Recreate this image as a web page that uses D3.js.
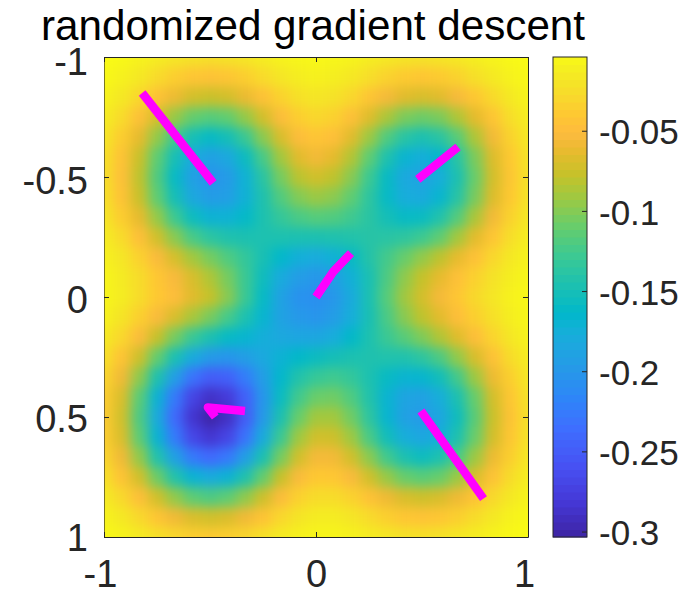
<!DOCTYPE html>
<html>
<head>
<meta charset="utf-8">
<script src="https://cdn.jsdelivr.net/npm/d3@7"></script>
<style>
  html, body { margin: 0; padding: 0; background: #fff; }
  text { font-family: "Liberation Sans", Arial, sans-serif; }
</style>
</head>
<body>
<div id="chart"></div>
<script>
// grid positions, one twelfth apart
const gridX = d3.range(25).map((i) => -1 + i / 12);
const gridY = d3.range(25).map((i) => -1 + i / 12);

// depth of the surface, in thousandths (value = -depth / 1000)
const depth = [
  [4,6,11,16,21,24,26,24,21,16,11,8,7,8,10,15,19,22,24,22,19,14,10,6,3],
  [6,12,19,29,38,45,47,45,38,29,21,15,12,14,19,27,35,41,44,41,35,26,18,11,6],
  [11,19,32,47,62,74,78,74,63,48,35,25,21,24,32,45,58,68,72,68,57,43,30,18,10],
  [16,29,49,73,96,113,119,114,97,74,52,38,32,36,49,69,89,105,110,105,88,66,45,27,15],
  [21,39,65,97,128,152,162,153,131,100,72,52,45,50,68,94,121,141,149,140,118,88,59,35,19],
  [25,47,78,115,152,182,193,185,159,125,92,68,59,66,86,115,147,171,178,168,141,105,70,42,23],
  [26,49,82,121,162,194,206,199,174,140,107,84,75,82,101,130,161,184,191,179,149,111,74,44,24],
  [25,47,78,115,153,185,198,195,175,147,121,103,95,100,115,138,162,180,183,170,142,106,70,42,23],
  [21,39,65,97,130,158,173,174,164,148,134,124,119,121,129,140,153,162,160,146,120,89,59,35,19],
  [16,29,50,75,101,125,139,147,149,148,148,149,149,147,145,142,141,138,130,115,92,67,45,27,15],
  [12,21,36,54,73,92,107,122,135,151,166,177,181,175,161,144,127,112,98,83,65,48,32,19,11],
  [9,17,28,43,56,72,88,107,131,157,182,197,203,195,176,150,123,99,80,65,49,36,24,14,8],
  [9,16,28,42,52,68,80,101,131,162,191,207,210,203,182,150,119,93,74,58,44,31,21,12,7],
  [12,22,37,55,72,90,106,126,148,170,191,201,205,197,179,151,124,101,82,67,51,37,25,14,8],
  [18,32,53,79,107,132,149,162,170,178,185,187,187,180,165,148,131,118,104,87,69,51,34,20,11],
  [25,46,76,113,150,182,200,204,196,184,173,165,159,153,149,147,146,146,138,123,98,72,48,28,16],
  [33,60,99,147,195,233,252,248,226,196,167,145,133,129,135,148,161,171,169,155,127,94,62,37,20],
  [39,71,117,173,228,272,290,281,248,204,160,128,111,109,122,145,171,189,193,179,149,112,74,44,24],
  [41,75,123,182,241,286,303,291,252,200,149,112,92,92,109,138,170,193,200,187,157,117,78,46,25],
  [39,71,116,172,227,270,286,272,233,182,131,94,75,76,94,124,155,179,187,177,148,111,74,44,24],
  [33,60,98,146,192,228,241,229,195,150,107,75,58,59,75,100,128,149,158,148,125,94,62,37,20],
  [25,46,75,110,145,172,182,173,147,113,79,55,42,43,55,75,96,112,118,112,95,71,47,28,15],
  [17,31,50,75,98,116,123,116,99,76,53,36,28,28,35,47,61,72,76,72,61,46,31,19,10],
  [10,19,31,45,60,71,75,71,60,46,32,22,16,16,21,29,37,44,46,44,37,28,19,11,6],
  [6,10,17,25,32,38,41,38,33,25,17,12,9,9,11,16,20,24,25,24,20,15,10,6,3],
];

// descent paths [x, y]
const paths = [
  [[-0.82, -0.85], [-0.485, -0.475]],
  [[0.67, -0.625], [0.48, -0.49]],
  [[0.165, -0.183], [0.08, -0.104], [0, 0]],
  [[-0.335, 0.475], [-0.51, 0.46], [-0.475, 0.5]],
  [[0.495, 0.475], [0.79, 0.84]],
];

const xTicks = [-1, 0, 1];
const yTicks = [-1, -0.5, 0, 0.5, 1];
const barTicks = [-0.05, -0.1, -0.15, -0.2, -0.25, -0.3];
const barRange = [-0.3034, -0.004];

// parula, sampled at colormap index of 64
const parulaIdx = [0, 4, 9, 14, 18, 22, 26, 29, 32, 36, 40, 44, 47, 50, 52, 53, 55, 57, 59, 61, 63];
const parulaHex = ["#3e26a8", "#4537d5", "#4752f4", "#3e6fff", "#2d87f7", "#259be7", "#18addb", "#01b8ca", "#18bfb5", "#37c897", "#63cd6f", "#9dc942", "#c5c22a", "#e6bb2d", "#f8ba3d", "#febd3c", "#fec832", "#f9d62d", "#f5e327", "#f5ef20", "#f9fb15"];

const margin = { top: 57, left: 104 };
const plotW = 424;
const plotH = 480;

const svg = d3.select("#chart").append("svg")
  .attr("width", 682)
  .attr("height", 595)
  .style("display", "block");

const x = d3.scaleLinear().domain([-1, 1]).range([margin.left, margin.left + plotW]);
const y = d3.scaleLinear().domain([-1, 1]).range([margin.top, margin.top + plotH]);
const barY = d3.scaleLinear().domain(barRange).range([margin.top + plotH, margin.top]);

const color = d3.scaleLinear()
  .domain(parulaIdx.map((i) => barRange[0] + (i / 63) * (barRange[1] - barRange[0])))
  .range(parulaHex)
  .clamp(true);

// heatmap, softened with a blur since the original image is interpolated
const defs = svg.append("defs");
defs.append("clipPath").attr("id", "plotClip").append("rect")
  .attr("x", margin.left).attr("y", margin.top)
  .attr("width", plotW).attr("height", plotH);
const blur = defs.append("filter").attr("id", "soft")
  .attr("filterUnits", "userSpaceOnUse")
  .attr("x", 0).attr("y", 0).attr("width", 682).attr("height", 595)
  .attr("color-interpolation-filters", "sRGB");
blur.append("feGaussianBlur").attr("stdDeviation", 6);
blur.append("feComponentTransfer").append("feFuncA")
  .attr("type", "linear").attr("slope", 60);

const step = 1 / 12;
const cells = [];
gridY.forEach((gy, r) => gridX.forEach((gx, c) => cells.push({ gx, gy, v: -depth[r][c] / 1000 })));

svg.append("g").attr("clip-path", "url(#plotClip)")
  .append("g").attr("filter", "url(#soft)")
  .selectAll("rect")
  .data(cells)
  .join("rect")
  .attr("x", (d) => x(d.gx - step / 2))
  .attr("y", (d) => y(d.gy - step / 2))
  .attr("width", x(step) - x(0) + 0.5)
  .attr("height", y(step) - y(0) + 0.5)
  .attr("fill", (d) => color(d.v));

// paths
const line = d3.line().x((d) => x(d[0])).y((d) => y(d[1]));
svg.append("g").selectAll("path")
  .data(paths)
  .join("path")
  .attr("d", line)
  .attr("fill", "none")
  .attr("stroke", "#ff00ff")
  .attr("stroke-width", 8.5)
  .attr("stroke-linejoin", "round");

// axes
function styleAxis(g, size) {
  g.select(".domain").attr("stroke", "#262626").attr("stroke-width", 1);
  g.selectAll(".tick line").attr("stroke", "#262626").attr("stroke-width", 1);
  g.selectAll(".tick text").attr("fill", "#262626").style("font-size", size + "px");
}
const inner = -5;
svg.append("g").attr("transform", `translate(0,${margin.top + plotH})`)
  .call(d3.axisBottom(x).tickValues(xTicks).tickSize(inner).tickSizeOuter(0).tickPadding(23).tickFormat((d) => String(d)))
  .call(styleAxis, 38)
  .call((g) => g.selectAll(".tick text").attr("x", (d) => (d === 0 ? 0 : -4)));
svg.append("g").attr("transform", `translate(${margin.left},0)`)
  .call(d3.axisLeft(y).tickValues(yTicks).tickSize(inner).tickSizeOuter(0).tickPadding(16).tickFormat((d) => String(d)))
  .call(styleAxis, 38)
  .call((g) => g.selectAll(".tick text").attr("y", (d) => 3 - 2 * d))
  .call((g) => g.select(".domain").attr("stroke-opacity", 0.6));
svg.append("g").attr("transform", `translate(0,${margin.top})`)
  .call(d3.axisTop(x).tickValues(xTicks).tickSize(inner).tickSizeOuter(0).tickFormat(""))
  .call(styleAxis, 38);
svg.append("g").attr("transform", `translate(${margin.left + plotW},0)`)
  .call(d3.axisRight(y).tickValues(yTicks).tickSize(inner).tickSizeOuter(0).tickFormat(""))
  .call(styleAxis, 38);

// colorbar
const barX = 553;
const barW = 34;
const barSteps = d3.range(barRange[0], barRange[1], (barRange[1] - barRange[0]) / 64);
svg.append("g").selectAll("rect")
  .data(barSteps)
  .join("rect")
  .attr("x", barX)
  .attr("y", (d) => barY(d + (barRange[1] - barRange[0]) / 64))
  .attr("width", barW)
  .attr("height", plotH / 64 + 0.5)
  .attr("fill", (d) => color(d));
svg.append("rect")
  .attr("x", barX).attr("y", margin.top)
  .attr("width", barW).attr("height", plotH)
  .attr("fill", "none").attr("stroke", "#262626");
svg.append("g").attr("transform", `translate(${barX + barW},0)`)
  .call(d3.axisRight(barY).tickValues(barTicks).tickSize(-5).tickSizeOuter(0).tickPadding(12).tickFormat((d) => String(d)))
  .call(styleAxis, 35)
  .call((g) => g.selectAll(".tick text").attr("y", 2))
  .call((g) => g.select(".domain").remove());

// title
svg.append("text")
  .attr("x", 313)
  .attr("y", 40)
  .attr("text-anchor", "middle")
  .attr("fill", "#000")
  .style("font-size", "42.2px")
  .text("randomized gradient descent");
</script>
</body>
</html>
